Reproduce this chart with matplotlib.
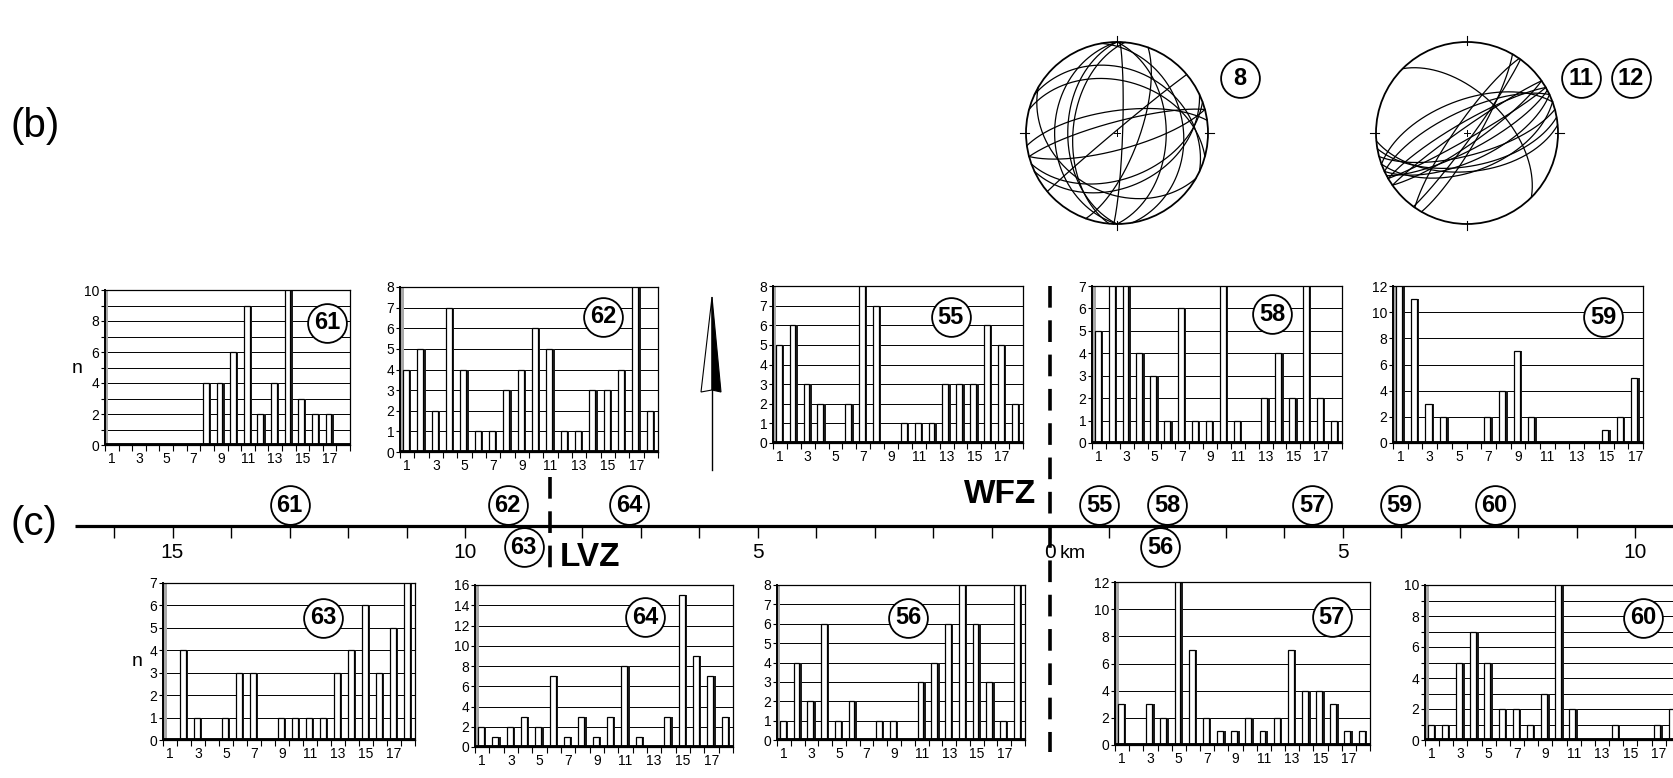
import numpy as np
import matplotlib
matplotlib.use("Agg")
from matplotlib import pyplot as plt
from matplotlib.patches import Rectangle, Circle, Polygon

plt.rcParams['font.family'] = ['Liberation Sans', 'DejaVu Sans']

# histogram data (bin counts), bins 1..18
bars_61 = [0, 0, 0, 0, 0, 0, 0, 4, 4, 6, 9, 2, 4, 10, 3, 2, 2, 0]
bars_62 = [4, 5, 2, 7, 4, 1, 1, 3, 4, 6, 5, 1, 1, 3, 3, 4, 8, 2]
bars_55 = [5, 6, 3, 2, 0, 2, 8, 7, 0, 1, 1, 1, 3, 3, 3, 6, 5, 2]
bars_58 = [5, 7, 7, 4, 3, 1, 6, 1, 1, 7, 1, 0, 2, 4, 2, 7, 2, 1]
bars_59 = [12, 11, 3, 2, 0, 0, 2, 4, 7, 2, 0, 0, 0, 0, 1, 2, 5]
bars_63 = [0, 4, 1, 0, 1, 3, 3, 0, 1, 1, 1, 1, 3, 4, 6, 3, 5, 7]
bars_64 = [2, 1, 2, 3, 2, 7, 1, 3, 1, 3, 8, 1, 0, 3, 15, 9, 7, 3]
bars_56 = [1, 4, 2, 6, 1, 2, 0, 1, 1, 0, 3, 4, 6, 8, 6, 3, 1, 8]
bars_57 = [3, 0, 3, 2, 12, 7, 2, 1, 1, 2, 1, 2, 7, 4, 4, 3, 1, 1]
bars_60 = [1, 1, 5, 7, 5, 2, 2, 1, 3, 10, 2, 0, 0, 1, 0, 0, 1, 2]
y_max = {'61': 10, '62': 8, '55': 8, '58': 7, '59': 12,
         '63': 7, '64': 16, '56': 8, '57': 12, '60': 10}

# sites along the section (km, west negative)
sites_above = ['61', '62', '64', '55', '58', '57', '59', '60']
km_above = [-13.0, -9.27, -7.2, 0.84, 2.0, 4.48, 5.98, 7.6]
sites_below = ['63', '56']
km_below = [-9.0, 1.88]
km_ticks = list(range(-16, 11))
km_labels = {-15: '15', -10: '10', -5: '5', 0: '0', 5: '5', 10: '10'}
lvz_km = -8.55
wfz_km = 0.0

# fault planes (strike RHR, dip) for the two stereonets
planes_8 = [(0, 45), (350, 28), (180, 45), (180, 32), (185, 50), (2, 85),
            (255, 80), (75, 75), (262, 70), (230, 88), (65, 40), (70, 48),
            (295, 30), (285, 42), (120, 35), (20, 70)]
planes_11_12 = [(60, 85), (62, 75), (240, 80), (65, 65), (245, 70), (70, 55), (55, 80),
                (235, 85), (75, 70), (250, 60), (80, 60), (85, 55), (36, 85), (30, 80),
                (215, 80), (315, 55)]

W, H = 1674, 778
fig = plt.figure(figsize=(W / 100, H / 100), dpi=100)

# histogram boxes in pixels: left, top, right, bottom ; label position in axes fraction
layout = {
    '61': ((105, 290, 350, 445), (0.906, 0.79), bars_61),
    '62': ((400, 287, 658, 452), (0.787, 0.82), bars_62),
    '55': ((773, 286, 1023, 443), (0.71, 0.80), bars_55),
    '58': ((1092, 286, 1342, 443), (0.72, 0.82), bars_58),
    '59': ((1393, 286, 1643, 443), (0.84, 0.80), bars_59),
    '63': ((163, 583, 415, 740), (0.635, 0.78), bars_63),
    '64': ((475, 585, 733, 747), (0.66, 0.80), bars_64),
    '56': ((777, 585, 1025, 740), (0.53, 0.79), bars_56),
    '57': ((1115, 582, 1370, 745), (0.85, 0.785), bars_57),
    '60': ((1425, 585, 1680, 740), (0.855, 0.79), bars_60),
}

CIRC_S = 780  # marker area for circled numbers


def circled(ax, x, y, txt, **kw):
    ax.scatter([x], [y], s=CIRC_S, facecolor='white', edgecolor='black', lw=1.3,
               zorder=10, clip_on=False, **kw)
    ax.text(x, y, txt, ha='center', va='center', fontsize=17, fontweight='bold',
            zorder=11, clip_on=False, **kw)


for name, (rect, lab, vals) in layout.items():
    L, T, R, B = rect
    ax = fig.add_axes([L / W, 1 - B / H, (R - L) / W, (B - T) / H])
    ymax = y_max[name]
    n = len(vals)
    x = np.arange(1, n + 1)
    grid_step = 1 if ymax <= 10 else 2
    lab_step = 1 if ymax <= 8 else 2
    for lv in np.arange(grid_step, ymax + 0.1, grid_step):
        ax.axhline(lv, color='black', lw=0.7, zorder=1)
    ax.bar(x + 0.09, vals, width=0.42, color='#1e1e1e', zorder=2)
    ax.bar(x - 0.09, vals, width=0.42, color='white', edgecolor='black', lw=0.9, zorder=3)
    ax.axhline(0, color='black', lw=2.8, zorder=4)
    ax.add_patch(Rectangle((0, 0), 0.014, 1, transform=ax.transAxes,
                           facecolor='#a8a8a8', edgecolor='none', zorder=1))
    ax.set_xlim(0.5, n + 0.5)
    ax.set_ylim(0, ymax)
    ax.set_yticks(np.arange(0, ymax + 0.1, lab_step))
    ax.set_yticks(np.arange(0, ymax + 0.1, grid_step), minor=True)
    ax.set_xticks(np.arange(1, n + 1, 2))
    ax.set_xticks(np.arange(0.5, n + 1, 1), minor=True)
    ax.tick_params(axis='x', which='major', length=0, labelsize=10, pad=5)
    ax.tick_params(axis='x', which='minor', length=4, width=0.8)
    ax.tick_params(axis='y', which='both', length=3, width=0.8, labelsize=10, pad=1)
    for sp in ax.spines.values():
        sp.set_linewidth(0.9)
    ax.spines['left'].set_linewidth(1.4)
    circled(ax, lab[0], lab[1], name, transform=ax.transAxes)

# pixel overlay: stereonets, arrow, panel letters
axp = fig.add_axes([0, 0, 1, 1])
axp.set_xlim(0, W)
axp.set_ylim(H, 0)
axp.axis('off')

axp.text(11, 126, '(b)', fontsize=29, ha='left', va='center')
axp.text(11, 524, '(c)', fontsize=29, ha='left', va='center')
axp.text(77, 368, 'n', fontsize=14, ha='center', va='center')
axp.text(137, 661, 'n', fontsize=14, ha='center', va='center')

# north arrow
axp.plot([712, 712], [390, 470], color='black', lw=1)
axp.add_patch(Polygon([(712, 297), (701, 392), (712, 390)], closed=True,
                      facecolor='white', edgecolor='black', lw=0.8))
axp.add_patch(Polygon([(712, 297), (721, 392), (712, 390)], closed=True,
                      facecolor='black', edgecolor='black', lw=0.8))


def great_circle(strike, dip):
    s = np.radians(strike)
    d = np.radians(dip)
    t = np.linspace(0, np.pi, 181)
    sv = np.array([np.sin(s), np.cos(s), 0.0])
    dd = s + np.pi / 2
    dv = np.array([np.cos(d) * np.sin(dd), np.cos(d) * np.cos(dd), np.sin(d)])
    v = np.outer(np.cos(t), sv) + np.outer(np.sin(t), dv)
    plunge = np.arcsin(np.clip(v[:, 2], -1, 1))
    trend = np.arctan2(v[:, 0], v[:, 1])
    r = np.sqrt(2) * np.sin((np.pi / 2 - plunge) / 2)
    return r * np.sin(trend), r * np.cos(trend)


def stereonet(cx, cy, R, planes):
    axp.add_patch(Circle((cx, cy), R, facecolor='white', edgecolor='black', lw=1.3))
    for st, dp in planes:
        gx, gy = great_circle(st, dp)
        axp.plot(cx + R * gx, cy - R * gy, color='black', lw=0.9)
    for ang in (0, 90, 180, 270):
        a = np.radians(ang)
        axp.plot([cx + (R - 3) * np.sin(a), cx + (R + 6) * np.sin(a)],
                 [cy - (R - 3) * np.cos(a), cy - (R + 6) * np.cos(a)], color='black', lw=0.8)
    axp.plot([cx - 3, cx + 3], [cy, cy], color='black', lw=0.7)
    axp.plot([cx, cx], [cy - 3, cy + 3], color='black', lw=0.7)


stereonet(1117, 133, 91, planes_8)
stereonet(1467, 133, 91, planes_11_12)
circled(axp, 1240, 78, '8')
circled(axp, 1581, 78, '11')
circled(axp, 1631, 78, '12')

# section overlay: x in km, y in pixels
PX0, PXKM = 1050, 58.5
axs = fig.add_axes([0, 0, 1, 1])
axs.set_xlim(-PX0 / PXKM, (W - PX0) / PXKM)
axs.set_ylim(H, 0)
axs.axis('off')

axs.plot([(75 - PX0) / PXKM, (W - PX0) / PXKM], [526, 526], color='black', lw=2.3,
         solid_capstyle='butt')
axs.vlines(km_ticks, 526, 538, color='black', lw=1)
for k, lbl in km_labels.items():
    axs.text(k, 552, lbl, fontsize=15, ha='center', va='center')
axs.text(0.17, 554, 'km', fontsize=14, ha='left', va='center')

axs.plot([wfz_km, wfz_km], [286, 752], color='black', lw=2.6, dashes=(6, 3.5))
axs.plot([lvz_km, lvz_km], [477, 576], color='black', lw=2.6, dashes=(6, 3.5))
axs.text(wfz_km - 0.24, 494, 'WFZ', fontsize=24, fontweight='bold', ha='right', va='center')
axs.text(lvz_km + 0.17, 557, 'LVZ', fontsize=24, fontweight='bold', ha='left', va='center')

for name, k in zip(sites_above, km_above):
    circled(axs, k, 505, name)
for name, k in zip(sites_below, km_below):
    circled(axs, k, 547, name)

fig.savefig('out.png', dpi=100)
